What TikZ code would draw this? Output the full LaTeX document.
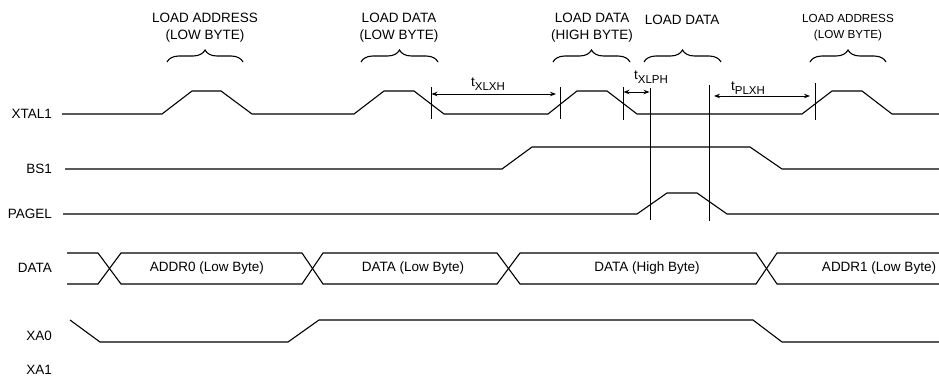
\documentclass[tikz,border=0pt]{standalone}
\usepackage{fontspec}
\setmainfont{Liberation Sans}
\usetikzlibrary{decorations.pathreplacing,arrows.meta}
\begin{document}
\begin{tikzpicture}[x=1pt,y=-1pt,
  sig/.style={line width=1.1pt,line join=miter},
  tick/.style={line width=1.0pt},
  lbl/.style={anchor=east,inner sep=0pt,font=\fontsize{13.5}{15}\selectfont},
  txt/.style={inner sep=0pt,font=\fontsize{13.5}{15}\selectfont},
  head/.style={inner sep=0pt,align=center,font=\fontsize{13.5}{17}\selectfont},
  smallhead/.style={inner sep=0pt,align=center,font=\fontsize{11.7}{16}\selectfont},
  brc/.style={line width=1.1pt,decorate,decoration={brace,amplitude=12pt}},
  dim/.style={line width=0.9pt,{Stealth[length=6pt,width=4.5pt]}-{Stealth[length=6pt,width=4.5pt]}},
  tlab/.style={inner sep=0pt,font=\fontsize{13.5}{15}\selectfont}]
\useasboundingbox (0,0) rectangle (939,377);

% signal labels
\node[lbl] (lx) at (52,114) {XTAL1};
\node[lbl] (lb) at (52,169) {BS1};
\node[lbl] (lp) at (52,214) {PAGEL};
\node[lbl] (ld) at (52,268) {DATA};
\node[lbl] (la0) at (52,336) {XA0};
\node[lbl] (la1) at (52,370) {XA1};

% headings
\node[head] (h1) at (205,28) {LOAD ADDRESS\\(LOW BYTE)};
\node[head] (h2) at (399,28) {LOAD DATA\\(LOW BYTE)};
\node[head] (h3) at (592,28) {LOAD DATA\\(HIGH BYTE)};
\node[head] (h4) at (682,20) {LOAD DATA};
\node[smallhead] (h5) at (848,28) {LOAD ADDRESS\\(LOW BYTE)};

% braces
\draw[brc] (167,62) -- (243,62);
\draw[brc] (361,62) -- (438,62);
\draw[brc] (553,62) -- (630,62);
\draw[brc] (644,62) -- (721,62);
\draw[brc] (810,62) -- (886,62);

% XTAL1
\draw[sig] (62,114) -- (162,114) -- (192,91) -- (221,91) -- (252,114) -- (354,114) -- (384,91) -- (414,91) -- (444,114) -- (548,114) -- (577,91) -- (607,91) -- (637,114) -- (802,114) -- (832,91) -- (862,91) -- (892,114) -- (939,114);
% BS1
\draw[sig] (65,169) -- (502,169) -- (532,147) -- (750,147) -- (782,169) -- (939,169);
% PAGEL
\draw[sig] (63,214) -- (637,214) -- (667,193) -- (697,193) -- (727,214) -- (939,214);
% DATA
\draw[sig] (67,253) -- (98,253) -- (121,284) -- (302,284) -- (323,253) -- (497,253) -- (520,284) -- (756,284) -- (777,253) -- (939,253);
\draw[sig] (67,284) -- (98,284) -- (121,253) -- (302,253) -- (323,284) -- (497,284) -- (520,253) -- (756,253) -- (777,284) -- (939,284);
\node[txt] (d1) at (207,268) {ADDR0 (Low Byte)};
\node[txt] (d2) at (413,268) {DATA (Low Byte)};
\node[txt] (d3) at (647,268) {DATA (High Byte)};
\node[txt] (d4) at (879,268) {ADDR1 (Low Byte)};
% XA0
\draw[sig] (70,320) -- (100,342) -- (288,342) -- (319,320) -- (753,320) -- (782,342) -- (939,342);

% ticks and reference lines
\coordinate (t1a) at (431,87); \coordinate (t1b) at (431,119);
\coordinate (t2a) at (560,87); \coordinate (t2b) at (560,119);
\coordinate (t3a) at (623,87); \coordinate (t3b) at (623,120);
\coordinate (t4a) at (815,83); \coordinate (t4b) at (815,120);
\coordinate (v1a) at (650,88); \coordinate (v1b) at (650,220);
\coordinate (v2a) at (709,85); \coordinate (v2b) at (709,221);
\draw[tick] (t1a) -- (t1b);
\draw[tick] (t2a) -- (t2b);
\draw[tick] (t3a) -- (t3b);
\draw[tick] (t4a) -- (t4b);
\draw[tick] (v1a) -- (v1b);
\draw[tick] (v2a) -- (v2b);

% dimension arrows
\coordinate (a1l) at (431,94); \coordinate (a1r) at (560,94);
\coordinate (a2l) at (623,92); \coordinate (a2r) at (650,92);
\coordinate (a3l) at (709,96); \coordinate (a3r) at (815,96);
\draw[dim,shorten <=0.5pt,shorten >=4pt] (a1l) -- (a1r);
\draw[dim,shorten <=0.5pt,shorten >=0.5pt] (a2l) -- (a2r);
\draw[dim,shorten <=5pt,shorten >=5pt] (a3l) -- (a3r);

\node[tlab] (n1) at (488,84) {t\raisebox{-3.5pt}{\fontsize{11.5}{12}\selectfont XLXH}};
\node[tlab] (n2) at (651,77) {t\raisebox{-3.5pt}{\fontsize{11.5}{12}\selectfont XLPH}};
\node[tlab] (n3) at (748,88) {t\raisebox{-3.5pt}{\fontsize{11.5}{12}\selectfont PLXH}};
\end{tikzpicture}
\end{document}
